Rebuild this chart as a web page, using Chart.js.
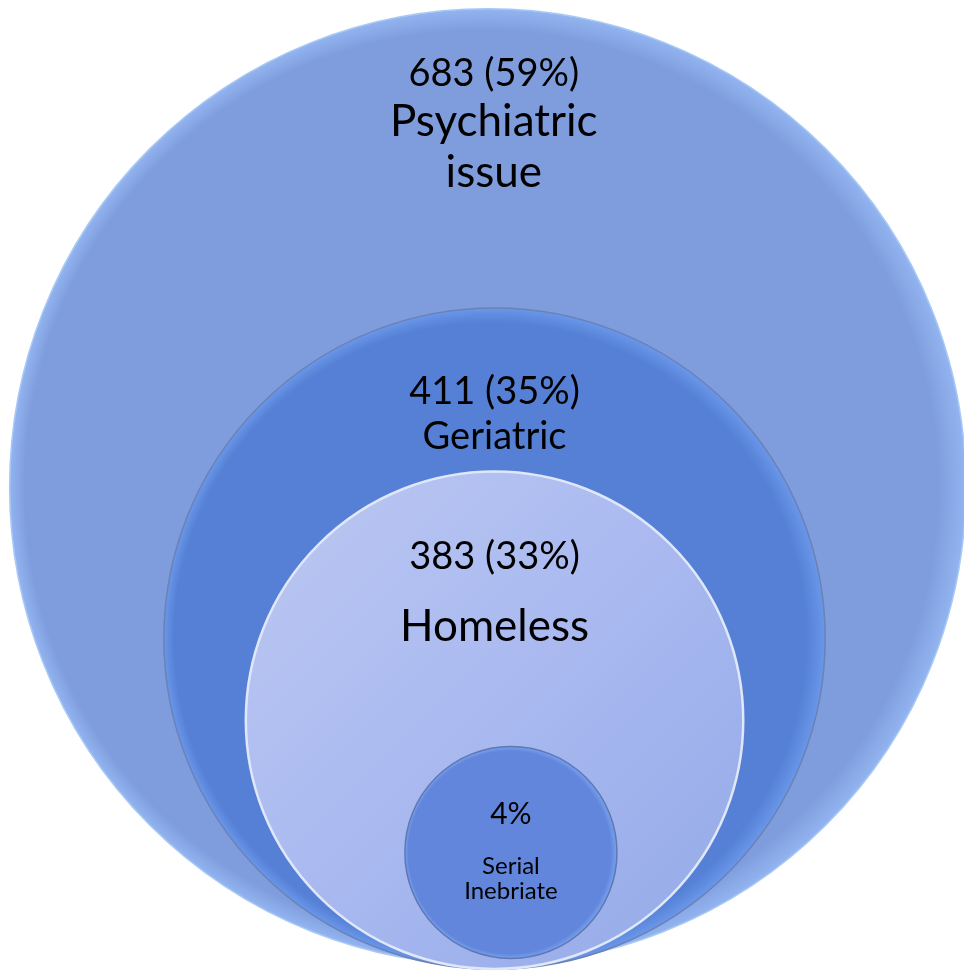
<!DOCTYPE html>
<html>
<head>
<meta charset="utf-8">
<title>Nested circles</title>
<script src="https://cdn.jsdelivr.net/npm/chart.js@4"></script>
<style>
    html, body { margin: 0; padding: 0; background: #ffffff; }
    #nestChart { display: block; }
</style>
</head>
<body>
<canvas id="nestChart" width="964" height="972"></canvas>
<script>
// Data (circle centres and radii in chart units, axes run 0..100)
const categories = ['Psychiatric issue', 'Geriatric', 'Homeless', 'Serial Inebriate'];
const categoryLines = [['Psychiatric', 'issue'], ['Geriatric'], ['Homeless'], ['Serial', 'Inebriate']];
const counts = [683, 411, 383, null];
const percents = [59, 35, 33, 4];
const bubbleX = [50.6, 51.3, 51.3, 53.0];
const bubbleY = [49.9, 34.3, 25.9, 12.3];
const bubbleR = [49.6, 34.3, 25.8, 11.0];

// Styles per circle
const baseColors = ['#7f9ddd', '#5580d5', '#a9b8ef', '#6286dc'];
const rimColors = ['#92b4f0', '#6a97ea', '#c9d4f6', '#78a2f0'];
const borderColors = ['#a9c9f5', '#6a82b6', '#dfe7f8', '#5f78b2'];

// Label layout: [font size, baseline offset from top of circle], plus x shift
const labelLayout = [
    [[38, 77], [44, 127], [44, 178]],
    [[38, 96], [38, 141]],
    [[38, 97], [44, 169]],
    [[30, 78], [24, 128], [24, 153]]
];
const labelShift = [6, 0, 0, 0];

function pxRadius(chart, i) {
    const xs = chart.scales.x;
    if (!xs) return 0;
    const r = xs.getPixelForValue(bubbleR[i]) - xs.getPixelForValue(0);
    return isFinite(r) ? r : 0;
}

function circleFill(context) {
    const chart = context.chart;
    const i = context.dataIndex;
    if (!chart.scales.x || !chart.scales.y) return baseColors[i];
    const cx = chart.scales.x.getPixelForValue(bubbleX[i]);
    const cy = chart.scales.y.getPixelForValue(bubbleY[i]);
    const r = pxRadius(chart, i);
    if (!isFinite(cx) || !isFinite(cy) || r <= 0) return baseColors[i];
    const c = chart.ctx;
    if (i === 2) {
        // light circle: soft diagonal shading
        const g = c.createLinearGradient(cx - r, cy - r, cx + r, cy + r);
        g.addColorStop(0, '#bcc8f2');
        g.addColorStop(0.5, '#a9b9f0');
        g.addColorStop(1, '#93a9e8');
        return g;
    }
    // rim a bit wider on the right, like a lit bevel
    const g = c.createRadialGradient(cx - r * 0.03, cy, r * 0.9, cx, cy, r);
    g.addColorStop(0, baseColors[i]);
    g.addColorStop(0.55, baseColors[i]);
    g.addColorStop(1, rimColors[i]);
    return g;
}

const labelPlugin = {
    id: 'circleLabels',
    afterDatasetsDraw(chart) {
        const meta = chart.getDatasetMeta(0);
        const ctx = chart.ctx;
        ctx.save();
        ctx.fillStyle = '#000000';
        ctx.textAlign = 'center';
        ctx.textBaseline = 'alphabetic';
        meta.data.forEach((pt, i) => {
            const r = pxRadius(chart, i);
            const top = pt.y - r;
            const head = counts[i] !== null ? `${counts[i]} (${percents[i]}%)` : `${percents[i]}%`;
            const lines = [head, ...categoryLines[i]];
            lines.forEach((txt, j) => {
                const [size, off] = labelLayout[i][j];
                ctx.font = `${size}px Lato, "Open Sans", sans-serif`;
                ctx.fillText(txt, pt.x + labelShift[i], top + off);
            });
        });
        ctx.restore();
    }
};

new Chart(document.getElementById('nestChart'), {
    type: 'scatter',
    data: {
        labels: categories,
        datasets: [{
            label: 'Cases',
            data: bubbleX.map((x, i) => ({ x: x, y: bubbleY[i] })),
            pointRadius: ctx => pxRadius(ctx.chart, ctx.dataIndex),
            pointHoverRadius: ctx => pxRadius(ctx.chart, ctx.dataIndex),
            pointBackgroundColor: circleFill,
            pointBorderColor: ctx => borderColors[ctx.dataIndex],
            pointBorderWidth: [1.5, 1.5, 2.5, 1.5],
            clip: false
        }]
    },
    options: {
        responsive: false,
        animation: false,
        events: [],
        layout: { padding: 0 },
        plugins: {
            legend: { display: false },
            tooltip: { enabled: false }
        },
        scales: {
            x: { type: 'linear', min: 0, max: 100, display: false },
            y: { type: 'linear', min: 0, max: 100, display: false }
        }
    },
    plugins: [labelPlugin]
});
</script>
</body>
</html>
